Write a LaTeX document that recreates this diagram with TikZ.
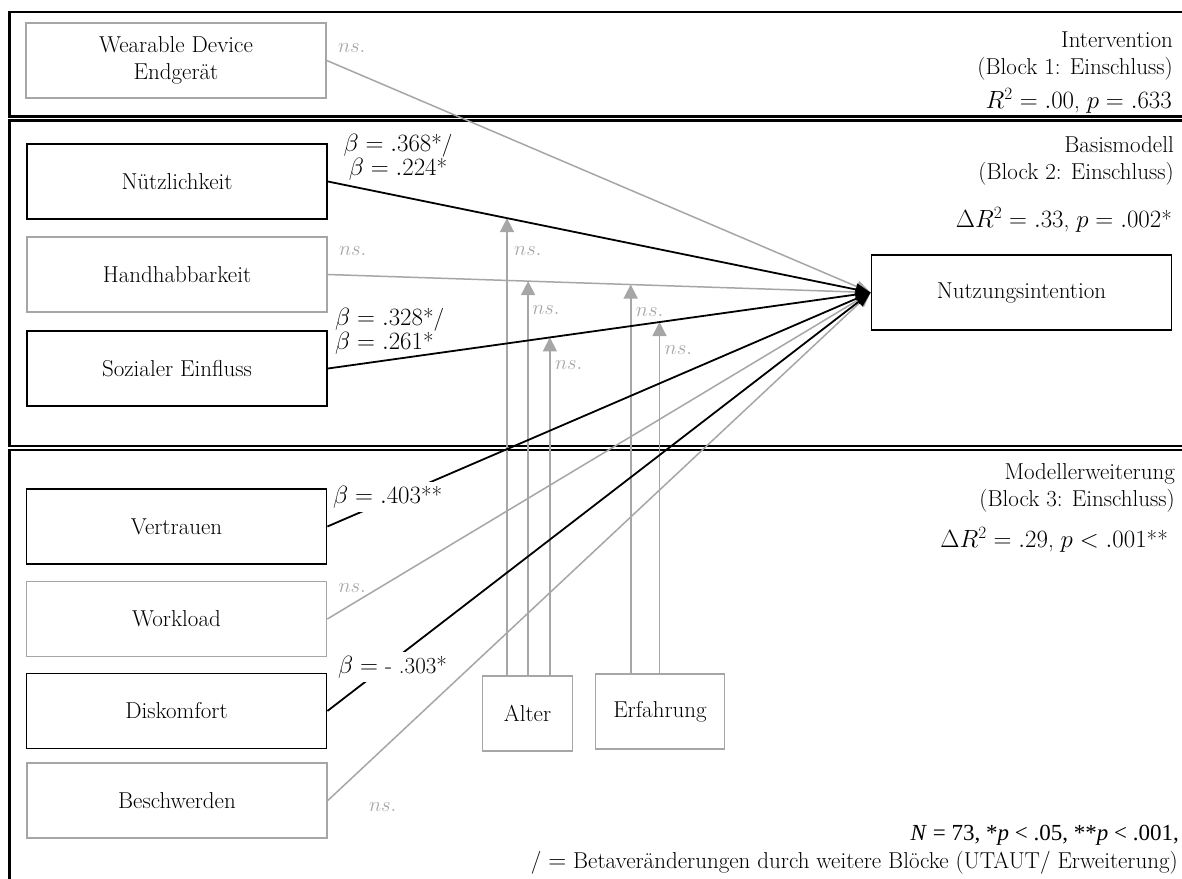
\documentclass[tikz,border=0pt]{standalone}
\usepackage{fontspec}
\newfontfamily\notefont{Liberation Serif}
\usetikzlibrary{arrows.meta,calc}
\definecolor{nsgray}{RGB}{166,166,166}
\tikzset{
  panel/.style={draw=black, line width=2.2pt},
  box/.style={minimum width=300pt, minimum height=75pt, inner sep=0pt,
    font=\fontsize{23}{27}\selectfont, align=center, fill=white},
  sigbox/.style={box, draw=black, line width=1.8pt},
  nsbox/.style={box, draw=nsgray, line width=1.6pt},
  sigpath/.style={draw=black, line width=1.8pt, -{Triangle[length=15pt,width=12pt]}},
  nspath/.style={draw=nsgray, line width=1.5pt, -{Triangle[length=15pt,width=12pt]}},
  modpath/.style={draw=nsgray, line width=1.7pt, -{Triangle[length=14pt,width=14pt]}},
  nslabel/.style={text=nsgray, font=\fontsize{22}{26}\selectfont, inner sep=0pt, anchor=west},
  coef/.style={font=\fontsize{23}{22}\selectfont, inner sep=4pt},
  coefcut/.style={coef, fill=white},
  blocktext/.style={font=\fontsize{23}{27}\selectfont, anchor=east, inner sep=0pt, align=right},
}
\begin{document}
\begin{tikzpicture}[x=1pt,y=-1pt]
\useasboundingbox (0,0) rectangle (1182,878);
\clip (0,0) rectangle (1182,878);

% the three regression blocks
\draw[panel] (9.5,12) rectangle (1200,116.5);
\draw[panel] (9.5,120.5) rectangle (1200,446);
\draw[panel] (9.5,450) rectangle (1200,900);

% predictors
\node[nsbox]  (wear)  at (176,60.5)  {Wearable Device\\Endgerät};
\node[sigbox] (nuetz) at (177,181.5) {Nützlichkeit};
\node[nsbox]  (hand)  at (177,274.5) {Handhabbarkeit};
\node[sigbox] (soz)   at (177,368.5) {Sozialer Einfluss};
\node[sigbox] (vert)  at (176.5,526.5) {Vertrauen};
\node[nsbox]  (work)  at (176.5,619)   {Workload};
\node[sigbox] (disk)  at (176.5,711)   {Diskomfort};
\node[nsbox]  (besch) at (177,800.5) {Beschwerden};

% criterion
\node[sigbox] (nutz) at (1021.5,292.5) {Nutzungsintention};

% moderators
\node[nsbox, minimum width=90pt]  (alter) at (527.5,713.5) {Alter};
\node[nsbox, minimum width=129pt] (erf)   at (660,711.5)   {Erfahrung};

% non-significant paths
\draw[nspath] (wear.east) -- (nutz.west);
\draw[nspath] (hand.east) -- coordinate[pos=0.369] (mHa) coordinate[pos=0.558] (mHe) (nutz.west);
\draw[nspath] (work.east) -- (nutz.west);
\draw[nspath] (besch.east) -- (nutz.west);

% points on the significant paths that the moderator arrows meet
\path (nuetz.east) -- coordinate[pos=0.330] (mNa) (nutz.west);
\path (soz.east) -- coordinate[pos=0.409] (mSa) coordinate[pos=0.611] (mSe) (nutz.west);

% moderation arrows
\draw[modpath] (alter.north -| mNa) -- (mNa);
\draw[modpath] (alter.north -| mHa) -- (mHa);
\draw[modpath] (alter.north -| mSa) -- (mSa);
\draw[modpath] (erf.north -| mHe) -- (mHe);
\draw[modpath] (erf.north -| mSe) -- (mSe);

% significant paths
\draw[sigpath] (nuetz.east) -- (nutz.west);
\draw[sigpath] (soz.east) -- (nutz.west);
\draw[sigpath] (vert.east) -- (nutz.west);
\draw[sigpath] (disk.east) -- (nutz.west);

% path labels
\node[nslabel] at ($(wear.east)+(11,-12)$) {$ns.$};
\node[nslabel] at ($(hand.east)+(11,-23.5)$) {$ns.$};
\node[nslabel] at ($(work.east)+(11,-31)$) {$ns.$};
\node[nslabel] at ($(besch.east)+(41,6.5)$) {$ns.$};
\node[nslabel] at ($(mNa)+(7,33)$) {$ns.$};
\node[nslabel] at ($(mHa)+(4,29)$) {$ns.$};
\node[nslabel] at ($(mSa)+(5,28)$) {$ns.$};
\node[nslabel] at ($(mHe)+(5,27.5)$) {$ns.$};
\node[nslabel] at ($(mSe)+(5,28)$) {$ns.$};

\node[coef, align=center] at (398,157.5) {$\beta = .368$*/\\$\beta = .224$*};
\node[coef, align=left, anchor=west] at (331,331.5) {$\beta = .328$*/\\$\beta = .261$*};
\node[coefcut, anchor=west] at (329,497) {$\beta = .403$**};
\node[coefcut, anchor=west] at (334,667) {$\beta =$ - .303*};

% block descriptions
\node[blocktext] at (1173,56.5) {Intervention\\(Block 1: Einschluss)};
\node[blocktext] at (1172,101) {$R^2 = .00$, $p = .633$};
\node[blocktext] at (1174,161) {Basismodell\\(Block 2: Einschluss)};
\node[blocktext] at (1172,220) {$\Delta R^2 = .33$, $p = .002$*};
\node[blocktext] at (1175,488) {Modellerweiterung\\(Block 3: Einschluss)};
\node[blocktext] at (1168,540) {$\Delta R^2 = .29$, $p < .001$**};

% note
\node[anchor=east, inner sep=0pt, font=\notefont\fontsize{23}{27}\selectfont] at (1179,835)
  {\textit{N} = 73, *\textit{p} < .05, **\textit{p} < .001,};
\node[blocktext] at (1178,863) {/ $=$ Betaveränderungen durch weitere Blöcke (UTAUT/ Erweiterung)};
\end{tikzpicture}
\end{document}
